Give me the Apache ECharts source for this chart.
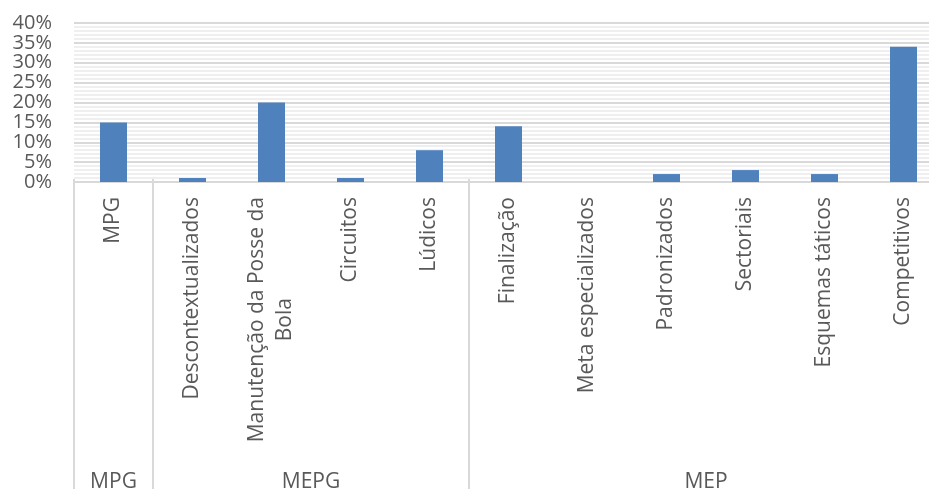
<!DOCTYPE html>
<html>
<head>
<meta charset="utf-8">
<script src="https://cdn.jsdelivr.net/npm/echarts@6/dist/echarts.min.js"></script>
<style>
  html, body { margin: 0; padding: 0; background: #fff; }
  #chart { width: 929px; height: 489px; }
</style>
</head>
<body>
<div id="chart"></div>
<script>
var categories = ['MPG', 'Descontextualizados', 'Manutenção da Posse da\nBola', 'Circuitos', 'Lúdicos',
    'Finalização', 'Meta especializados', 'Padronizados', 'Sectoriais', 'Esquemas táticos', 'Competitivos'];
var values = [0.15, 0.01, 0.20, 0.01, 0.08, 0.14, 0, 0.02, 0.03, 0.02, 0.34];
var groups = ['MPG', 'MEPG', 'MEP'];
var groupSizes = [1, 4, 6];
var yTicks = [0, 0.05, 0.10, 0.15, 0.20, 0.25, 0.30, 0.35, 0.40];

// group borders and centres on a 0..n value scale under the categories
var groupEdges = [0];
var groupCenters = [];
groupSizes.forEach(function (n, i) {
    var start = groupEdges[i];
    groupEdges.push(start + n);
    groupCenters.push(start + n / 2);
});

var font = 'Open Sans';
var grey = '#595959';

var myChart = echarts.init(document.getElementById('chart'));
var option = {
    animation: false,
    grid: {
        left: 74,
        width: 869,
        top: 23,
        bottom: 307,
        containLabel: false,
        outerBoundsMode: 'none'
    },
    xAxis: [
        {
            type: 'category',
            data: categories,
            position: 'bottom',
            axisLine: { lineStyle: { color: '#d9d9d9', width: 2 } },
            axisTick: { show: false },
            axisLabel: {
                rotate: 90,
                interval: 0,
                margin: 15,
                fontFamily: font,
                fontSize: 21,
                color: grey,
                lineHeight: 28,
                formatter: function (v) {
                    return v.split('\n').map(function (s) { return '{c|' + s + '}'; }).join('\n');
                },
                rich: {
                    c: { align: 'center', fontFamily: font, fontSize: 21, color: grey, lineHeight: 28 }
                }
            }
        },
        {
            type: 'value',
            min: 0,
            max: categories.length,
            position: 'bottom',
            offset: 316,
            axisLine: { show: false },
            splitLine: { show: false },
            axisTick: {
                show: true,
                inside: true,
                length: 319,
                customValues: groupEdges,
                lineStyle: { color: '#d9d9d9', width: 2 }
            },
            axisLabel: {
                inside: true,
                margin: 5,
                fontFamily: font,
                fontSize: 21,
                color: grey,
                customValues: groupCenters,
                formatter: function (v) {
                    var i = groupCenters.indexOf(v);
                    return i >= 0 ? groups[i] : '';
                }
            }
        }
    ],
    yAxis: {
        type: 'value',
        min: yTicks[0],
        max: yTicks[yTicks.length - 1],
        interval: yTicks[1] - yTicks[0],
        axisLine: { show: false },
        axisTick: { show: false },
        axisLabel: {
            margin: 22,
            showMinLabel: true,
            showMaxLabel: true,
            hideOverlap: false,
            color: grey,
            formatter: function (v) { return '{p|' + Math.round(v * 100) + '%}'; },
            rich: {
                p: { fontFamily: font, fontSize: 20, color: grey, height: 14, lineHeight: 14 }
            }
        },
        splitLine: { lineStyle: { color: '#d9d9d9', width: 2 } },
        minorTick: { show: false, splitNumber: 5 },
        minorSplitLine: { show: true, lineStyle: { color: '#efefef', width: 2 } }
    },
    series: [
        {
            type: 'bar',
            xAxisIndex: 0,
            data: values,
            barWidth: 27,
            itemStyle: { color: '#4f81bd' }
        }
    ]
};
myChart.setOption(option);
</script>
</body>
</html>
